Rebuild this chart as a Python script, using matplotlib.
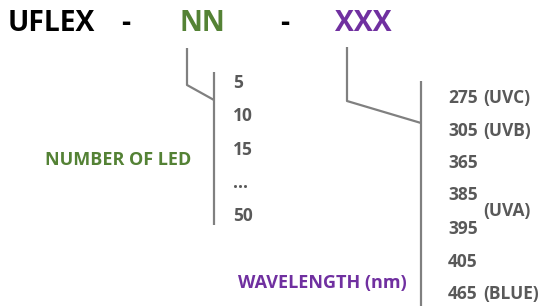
import matplotlib
matplotlib.use("Agg")
import matplotlib.pyplot as plt

# ---- content ----
title_parts = ["UFLEX", "-", "NN", "-", "XXX"]
led_counts = ["5", "10", "15", "...", "50"]
wavelengths = ["275", "305", "365", "385", "395", "405", "465"]
wl_bands = ["(UVC)", "(UVB)", "(UVA)", "(BLUE)"]
led_title = "NUMBER OF LED"
wl_title = "WAVELENGTH (nm)"

GREEN = "#548235"
PURPLE = "#7030A0"
GRAY_T = "#595959"
GRAY_L = "#808080"
FONT = "Open Sans"

fig = plt.figure(figsize=(5.42, 3.06), dpi=100)
ax = fig.add_axes([0, 0, 1, 1])
ax.set_xlim(0, 542)
ax.set_ylim(306, 0)
ax.axis("off")

# header
hx = [8, 121, 180, 280, 335]
hc = ["black", "black", GREEN, "black", PURPLE]
for t, x, c in zip(title_parts, hx, hc):
    ax.text(x, 31, t, fontsize=20.3, fontweight="bold", color=c,
            family=FONT, ha="left", va="baseline")

lw = 1.6
# NN connector
ax.plot([187, 187, 214], [48, 85, 100], color=GRAY_L, lw=lw, solid_capstyle="butt")
ax.plot([214, 214], [72, 225], color=GRAY_L, lw=lw, solid_capstyle="butt")
# XXX connector
ax.plot([347, 347, 421], [47, 101, 123], color=GRAY_L, lw=lw, solid_capstyle="butt")
ax.plot([421, 421], [81, 306], color=GRAY_L, lw=lw, solid_capstyle="butt")

# LED counts
led_base = [88, 121, 155, 188, 221]
for t, y in zip(led_counts, led_base):
    ax.text(233, y, t, fontsize=12.5, fontweight="bold", color=GRAY_T,
            family=FONT, ha="left", va="baseline")

ax.text(45, 165, led_title, fontsize=13, fontweight="bold", color=GREEN,
        family=FONT, ha="left", va="baseline")

# wavelengths
wl_base = [103, 136, 168, 200, 234, 267, 299]
for t, y in zip(wavelengths, wl_base):
    ax.text(448, y, t, fontsize=12.5, fontweight="bold", color=GRAY_T,
            family=FONT, ha="left", va="baseline")
band_base = [103, 136, 216, 299]
for t, y in zip(wl_bands, band_base):
    ax.text(483, y, t, fontsize=12.5, fontweight="bold", color=GRAY_T,
            family=FONT, ha="left", va="baseline")

ax.text(238, 288, wl_title, fontsize=13, fontweight="bold", color=PURPLE,
        family=FONT, ha="left", va="baseline")

fig.savefig("out.png", dpi=100)
